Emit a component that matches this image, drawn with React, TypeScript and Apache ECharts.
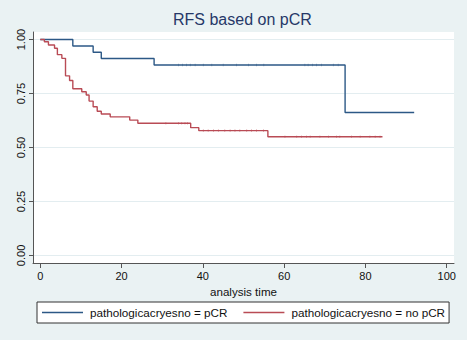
import React, { useEffect, useRef } from "react";
import * as echarts from "echarts";

// Kaplan-Meier curve: pCR group
const pcrTimes = [0, 8, 13, 15, 28, 75, 92];
const pcrSurv = [1, 0.97, 0.941, 0.912, 0.882, 0.662, 0.662];
const pcrCensor = [34, 35, 36, 36.9, 38.1, 40.1, 42.2, 45, 48.3, 51.2, 53.2, 55, 65.1, 65.9, 67, 68, 69.2, 72.1, 73.3];

// Kaplan-Meier curve: no pCR group
const noTimes = [0, 1, 2, 3.5, 4.2, 5.3, 6.2, 7.2, 8, 10.2, 11.3, 12, 13, 14, 15, 17.2, 22, 24, 37, 39, 56, 84.2];
const noSurv = [1, 0.99, 0.975, 0.96, 0.93, 0.913, 0.832, 0.81, 0.772, 0.758, 0.743, 0.715, 0.689, 0.668, 0.655, 0.642, 0.627, 0.612, 0.592, 0.578, 0.55, 0.55];
const noCensor = [30.9, 34, 34.8, 35.6, 36.2, 40.1, 41.3, 42.6, 43.8, 45.4, 46.7, 47.9, 49.1, 50.8, 52, 53.2, 54.9, 60.2, 63.1, 64.3, 65.5, 66.4, 68.8, 70.9, 72.9, 73.7, 76.6, 78.7, 81.1, 82.4, 83.6];

const xTicks = [0, 20, 40, 60, 80, 100];
const yTicks = [0, 0.25, 0.5, 0.75, 1];

const seriesNames = ["pathologicacryesno = pCR", "pathologicacryesno = no pCR"];
const titleText = "RFS based on pCR";
const xName = "analysis time";

const BLUE = "#2c5886";
const RED = "#b94b55";
const FONT = "Liberation Sans, Arial, Helvetica, sans-serif";

function stepAt(times: number[], surv: number[], t: number) {
  let v = surv[0];
  for (let i = 0; i < times.length; i++) if (times[i] <= t) v = surv[i];
  return v;
}

export default function App() {
  const ref = useRef<HTMLDivElement>(null);
  useEffect(() => {
    if (!ref.current) return;
    const chart = echarts.init(ref.current, undefined, { renderer: "svg" });
    const pcrLine = pcrTimes.map((t, i) => [t, pcrSurv[i]]);
    const noLine = noTimes.map((t, i) => [t, noSurv[i]]);
    const pcrC = pcrCensor.map((t) => [t, stepAt(pcrTimes, pcrSurv, t)]);
    const noC = noCensor.map((t) => [t, stepAt(noTimes, noSurv, t)]);
    chart.setOption({
      animation: false,
      backgroundColor: "#eaf2f3",
      textStyle: { fontFamily: FONT },
      title: {
        text: titleText,
        left: 173,
        top: 11,
        padding: 0,
        textStyle: { fontSize: 16, fontWeight: "normal", color: "#263868", fontFamily: FONT },
      },
      grid: [
        {
          left: 33,
          top: 32,
          width: 421,
          height: 231,
          show: true,
          backgroundColor: "#ffffff",
          borderWidth: 0,
        },
        {
          left: 33,
          top: 39.5,
          width: 421,
          height: 216,
          show: false,
        },
      ],
      legend: {
        data: seriesNames,
        left: 37,
        top: 302,
        orient: "horizontal",
        icon: "rect",
        backgroundColor: "#ffffff",
        borderColor: "#333333",
        borderWidth: 1,
        borderRadius: 0,
        padding: [4, 4, 4, 5],
        itemWidth: 41,
        itemHeight: 1.4,
        itemGap: 16,
        textStyle: { fontSize: 11.7, color: "#111", fontFamily: FONT, lineHeight: 13, padding: [0, 0, 0, 2] },
      },
      xAxis: [
        {
          type: "value",
          gridIndex: 0,
          min: -1.8,
          max: 101.8,
          name: xName,
          nameLocation: "middle",
          nameGap: 20,
          nameTextStyle: { fontSize: 11.6, color: "#111", fontFamily: FONT },
          axisLine: { show: true, onZero: false, lineStyle: { color: "#555", width: 1 } },
          axisTick: { show: true, inside: false, length: 5, customValues: xTicks, lineStyle: { color: "#555" } },
          axisLabel: { customValues: xTicks, fontSize: 11, color: "#111", margin: 7, fontFamily: FONT },
          splitLine: { show: false },
        },
        {
          type: "value",
          gridIndex: 1,
          min: 0,
          max: 100,
          show: false,
        },
      ],
      yAxis: [
        {
          type: "value",
          gridIndex: 0,
          min: -0.035,
          max: 1.035,
          axisLine: { show: true, onZero: false, lineStyle: { color: "#555", width: 1 } },
          axisTick: { show: true, inside: false, length: 4, customValues: yTicks, lineStyle: { color: "#555" } },
          axisLabel: {
            customValues: yTicks,
            rotate: 90,
            fontSize: 11,
            color: "#111",
            margin: 7,
            fontFamily: FONT,
            formatter: (v: number) => v.toFixed(2),
          },
          splitLine: { show: false },
        },
        {
          type: "value",
          gridIndex: 1,
          min: 0,
          max: 1,
          interval: 0.25,
          axisLine: { show: false },
          axisTick: { show: false },
          axisLabel: { show: false },
          splitLine: { show: true, lineStyle: { color: "#e3edf0", width: 1 } },
        },
      ],
      series: [
        {
          name: seriesNames[0],
          type: "line",
          step: "end",
          data: pcrLine,
          showSymbol: false,
          symbol: "none",
          lineStyle: { color: BLUE, width: 1.4 },
          itemStyle: { color: BLUE },
          z: 3,
        },
        {
          name: seriesNames[1],
          type: "line",
          step: "end",
          data: noLine,
          showSymbol: false,
          symbol: "none",
          lineStyle: { color: RED, width: 1.4 },
          itemStyle: { color: RED },
          z: 3,
        },
        {
          name: "pcr censored",
          type: "scatter",
          data: pcrC,
          symbol: "rect",
          symbolSize: [0.7, 2.6],
          itemStyle: { color: BLUE, opacity: 0.55 },
          z: 4,
        },
        {
          name: "no pcr censored",
          type: "scatter",
          data: noC,
          symbol: "rect",
          symbolSize: [0.7, 2.6],
          itemStyle: { color: RED, opacity: 0.55 },
          z: 4,
        },
      ],
    });
    return () => chart.dispose();
  }, []);
  return (
    <div
      ref={ref}
      style={{ position: "fixed", left: 0, top: 0, width: 467, height: 340 }}
    />
  );
}
